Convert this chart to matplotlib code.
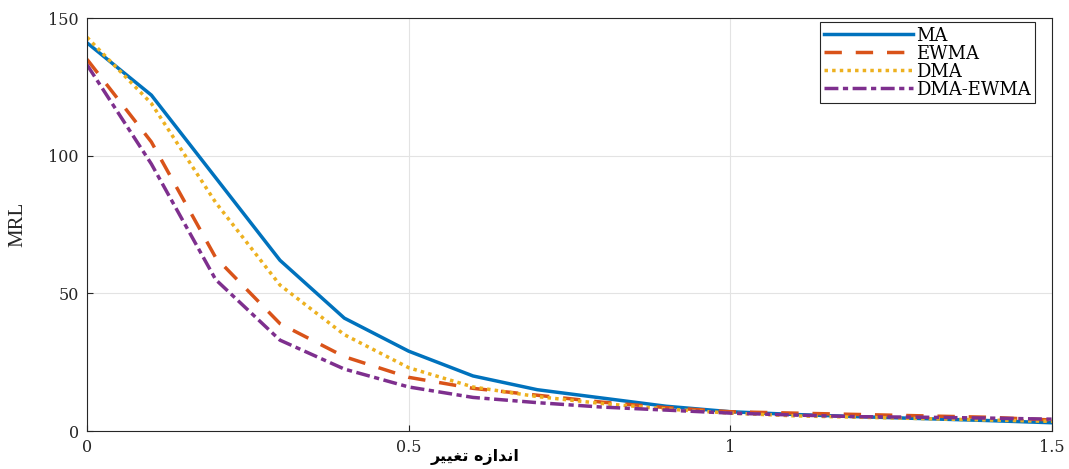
import numpy as np
import matplotlib.pyplot as plt

# shift size (x) and MRL values for each chart
shift = [0, 0.1, 0.2, 0.3, 0.4, 0.5, 0.6, 0.7, 0.8, 0.9, 1.0, 1.1, 1.2, 1.3, 1.4, 1.5]
mrl_ma = [141, 122, 92, 62, 41, 29, 20, 15, 12, 9, 7, 6, 5.2, 4.5, 3.8, 3]
mrl_ewma = [135, 105, 63, 39, 27, 19.5, 15.5, 13, 10.5, 8.5, 7, 6.5, 6, 5.5, 5, 4]
mrl_dma = [143, 119, 83, 53, 35, 23, 16, 12.5, 10, 8, 6.5, 5.5, 5, 4.5, 4, 3.5]
mrl_dma_ewma = [133, 97, 55, 33, 22.5, 16, 12.2, 10.3, 8.7, 7.6, 6.5, 5.8, 5.2, 5, 4.7, 4.3]

labels = ['MA', 'EWMA', 'DMA', 'DMA-EWMA']
x_ticks = [0, 0.5, 1, 1.5]
y_ticks = [0, 50, 100, 150]

# "اندازه تغییر" in visual order, presentation forms (matplotlib has no RTL shaping)
xlabel_fa = '\uFEAE\uFEF4\uFEF4\uFED0\uFE97 \uFEE9\uFEAF\uFE8D\uFEAA\uFEE7\uFE8D'

fig = plt.figure(figsize=(10.69, 4.69), dpi=100)
ax = fig.add_axes([0.0814, 0.081, 0.9026, 0.8806])

lw = 2.5
ax.plot(shift, mrl_ma, color='#0072BD', lw=lw, label=labels[0])
ax.plot(shift, mrl_ewma, color='#D95319', lw=lw, dashes=(5, 4), label=labels[1])
ax.plot(shift, mrl_dma, color='#EDB120', lw=lw, dashes=(1, 1.2), label=labels[2])
ax.plot(shift, mrl_dma_ewma, color='#7E2F8E', lw=lw, dashes=(4, 1.3, 1.5, 1.3), label=labels[3])

ax.set_xlim(0, 1.5)
ax.set_ylim(0, 150)
ax.set_xticks(x_ticks)
ax.set_xticklabels(['0', '0.5', '1', '1.5'])
ax.set_yticks(y_ticks)
ax.grid(True, color='#e3e3e3', lw=0.8)
ax.set_axisbelow(True)
ax.tick_params(direction='in', length=4, width=0.8, color='#262626',
               labelsize=11.5, labelcolor='#262626', pad=6)
for lab in ax.get_xticklabels() + ax.get_yticklabels():
    lab.set_family('DejaVu Serif')
for sp in ax.spines.values():
    sp.set_color('#262626')
    sp.set_linewidth(0.8)

ax.set_ylabel('MRL', family='Liberation Serif', fontsize=15, color='#262626')
ax.yaxis.set_label_coords(-0.062, 0.5)
ax.set_xlabel(xlabel_fa, family='DejaVu Sans', fontweight='bold', fontsize=11.5,
              va='center')
ax.xaxis.set_label_coords(0.402, -0.064)

leg = ax.legend(loc='upper right', bbox_to_anchor=(0.983, 0.99), borderaxespad=0,
                prop={'family': 'DejaVu Serif', 'size': 13}, fancybox=False,
                edgecolor='#262626', framealpha=1, handlelength=4.9,
                handletextpad=0.2, labelspacing=0.0, borderpad=0.25)
leg.get_frame().set_linewidth(0.8)

fig.savefig('out.png', dpi=100)
